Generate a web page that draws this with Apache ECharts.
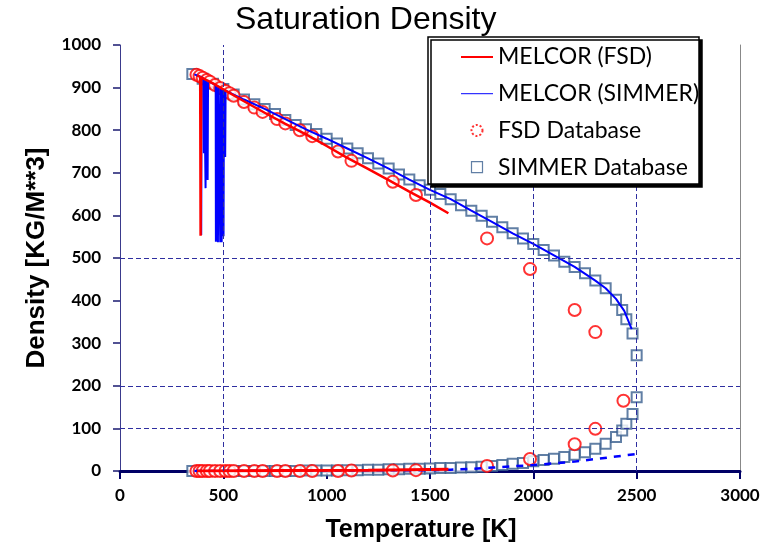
<!DOCTYPE html>
<html>
<head>
<meta charset="utf-8">
<script src="https://cdn.jsdelivr.net/npm/echarts@6/dist/echarts.min.js"></script>
<style>
  * { margin: 0; padding: 0; }
  body { background: #fff; }
  #chart { width: 776px; height: 548px; }
</style>
</head>
<body>
<div id="chart"></div>
<script>
// x ticks / y ticks
const xTicks = [0, 500, 1000, 1500, 2000, 2500, 3000];
const yTicks = [0, 100, 200, 300, 400, 500, 600, 700, 800, 900, 1000];
// dashed reference lines seen in the picture
const gridX = [500, 1500, 2000, 2500];
const gridY = [100, 200, 500];

// MELCOR (FSD) - liquid branch, with the drop near 390 K
const melcorFsdLiq = [[372, 929], [388, 925], [390, 552], [393, 924], [450, 910], [500, 896],
  [600, 868], [700, 841], [800, 815], [900, 790], [1000, 763], [1100, 735], [1200, 709],
  [1300, 683], [1400, 656], [1500, 630], [1589, 605]];
// MELCOR (FSD) - vapour branch
const melcorFsdVap = [[372, 0], [800, 1], [1200, 2], [1589, 4]];

// MELCOR (SIMMER) - liquid branch with spikes
const melcorSimLiq = [[360, 931], [392, 925], [393, 554], [395, 924], [405, 921], [406, 746],
  [408, 920], [413, 919], [414, 664], [416, 918], [423, 916], [424, 683], [426, 915],
  [430, 914], [463, 906], [464, 538], [466, 905], [473, 903], [474, 537], [476, 902],
  [484, 900], [485, 537], [487, 899], [491, 898], [492, 537], [494, 897], [500, 896],
  [501, 551], [503, 895], [508, 893], [509, 737], [511, 893], [600, 872], [700, 850],
  [800, 826], [900, 802], [1000, 780], [1100, 757], [1200, 734], [1300, 710], [1400, 684],
  [1500, 660], [1600, 638], [1700, 611], [1800, 585], [1900, 558], [2000, 533], [2100, 506],
  [2200, 479], [2300, 447], [2350, 429], [2400, 404], [2440, 376], [2476, 333]];
// MELCOR (SIMMER) - vapour branch (dashed)
const melcorSimVap = [[360, 0], [600, 0.5], [900, 1], [1200, 1.5], [1500, 2], [1600, 3],
  [1700, 5], [1800, 8], [1900, 11], [2000, 14], [2100, 18], [2200, 22], [2300, 28],
  [2400, 34], [2500, 40]];

// FSD Database circles
const fsdLiq = [[370, 930], [385, 927], [400, 923], [420, 918], [435, 914], [460, 906],
  [485, 899], [510, 892], [530, 887], [550, 881], [600, 866], [650, 853], [690, 843],
  [760, 826], [800, 816], [870, 800], [930, 786], [1055, 750], [1120, 728], [1320, 679],
  [1432, 648], [1776, 546], [1984, 474], [2200, 378], [2300, 326]];
const fsdVap = [[370, 0], [385, 0], [400, 0], [420, 0], [435, 0], [460, 0], [485, 0],
  [510, 0], [530, 0], [550, 0], [600, 0], [650, 0], [690, 0], [760, 0], [800, 0], [870, 0],
  [930, 0], [1055, 0], [1120, 1], [1320, 1], [1432, 2], [1776, 12], [1984, 28],
  [2200, 63], [2300, 99], [2436, 165]];

// SIMMER Database squares
const simLiq = [[350, 932], [400, 921], [450, 909], [500, 897], [550, 884], [600, 872],
  [650, 861], [700, 850], [750, 838], [800, 824], [850, 812], [900, 802], [950, 791],
  [1000, 780], [1050, 769], [1100, 757], [1150, 746], [1200, 734], [1250, 722], [1300, 710],
  [1350, 696], [1400, 684], [1450, 671], [1500, 660], [1550, 650], [1600, 638], [1650, 624],
  [1700, 611], [1750, 599], [1800, 585], [1850, 572], [1900, 558], [1950, 546], [2000, 533],
  [2050, 519], [2100, 506], [2150, 491], [2200, 479], [2250, 464], [2300, 447], [2350, 429],
  [2400, 402], [2430, 378], [2450, 356], [2480, 323], [2500, 272]];
const simVap = [[350, 0], [400, 0], [450, 0], [500, 0], [550, 0], [600, 0], [650, 0],
  [700, 0], [750, 0], [800, 0], [850, 0], [900, 1], [950, 1], [1000, 1], [1050, 1],
  [1100, 2], [1150, 2], [1200, 3], [1250, 3], [1300, 4], [1350, 4], [1400, 5], [1450, 5],
  [1500, 6], [1550, 7], [1600, 7], [1650, 8], [1700, 9], [1750, 10], [1800, 12], [1850, 14],
  [1900, 17], [1950, 19], [2000, 23], [2050, 26], [2100, 29], [2150, 33], [2200, 38],
  [2250, 44], [2300, 52], [2350, 64], [2400, 80], [2430, 95], [2450, 111], [2480, 134],
  [2500, 173]];

const chart = echarts.init(document.getElementById('chart'));

const dashColor = '#2E2EA0';
const markData = gridX.map(v => ({ xAxis: v })).concat(gridY.map(v => ({ yAxis: v })));
const plain = v => String(v);

chart.setOption({
  animation: false,
  title: {
    text: 'Saturation Density',
    left: 235,
    top: 4,
    padding: 0,
    textStyle: { fontFamily: 'Liberation Sans', fontSize: 32, fontWeight: 'normal', color: '#000' }
  },
  graphic: [{
    type: 'rect',
    z: 100,
    shape: { x: 428, y: 37, width: 271, height: 147 },
    style: { fill: '#fff', stroke: '#000', lineWidth: 1.5,
      shadowColor: '#000', shadowOffsetX: 3, shadowOffsetY: 3, shadowBlur: 0 }
  }],
  legend: {
    z: 110,
    orient: 'vertical',
    left: 428,
    top: 39,
    padding: [6, 4, 7, 33],
    itemWidth: 32,
    itemHeight: 11,
    itemGap: 12.7,
    textStyle: { fontFamily: 'Lato', fontSize: 23, color: '#000', lineHeight: 24 },
    data: [
      { name: 'MELCOR (FSD)', icon: 'path://M0,0H32V2H0Z' },
      { name: 'MELCOR (SIMMER)', icon: 'path://M0,0H32V1H0Z' },
      { name: 'FSD Database', icon: 'emptyCircle', itemStyle: { borderType: 'dotted', borderWidth: 1 } },
      { name: 'SIMMER Database', icon: 'path://M0,0H9V9H0Z',
        itemStyle: { color: '#fff', borderColor: '#3A5F8F', borderWidth: 1.2 } }
    ]
  },
  grid: { left: 120, right: 36, top: 45, bottom: 77, outerBoundsMode: 'none' },
  xAxis: {
    type: 'value',
    min: xTicks[0],
    max: xTicks[xTicks.length - 1],
    interval: 500,
    name: 'Temperature [K]',
    nameLocation: 'middle',
    nameGap: 47,
    nameTextStyle: { fontFamily: 'Liberation Sans', fontWeight: 'bold', fontSize: 25, color: '#000', padding: [0, 18, 0, 0] },
    axisLine: { lineStyle: { color: '#000066', width: 3 } },
    axisTick: { show: true, inside: false, length: 8, lineStyle: { color: '#000066', width: 2 } },
    axisLabel: { fontFamily: 'Lato', fontWeight: 'bold', fontSize: 17, color: '#000', margin: 16, formatter: plain },
    splitLine: { show: false }
  },
  yAxis: [{
    type: 'value',
    min: yTicks[0],
    max: yTicks[yTicks.length - 1],
    interval: 100,
    name: 'Density [KG/M**3]',
    nameLocation: 'middle',
    nameGap: 70,
    nameRotate: 90,
    nameTextStyle: { fontFamily: 'Liberation Sans', fontWeight: 'bold', fontSize: 26, color: '#000' },
    axisLine: { show: true, lineStyle: { color: '#3A3A8C', width: 1 } },
    axisTick: { show: true, length: 7, lineStyle: { color: '#1A1A70', width: 1.5 } },
    axisLabel: { fontFamily: 'Lato', fontWeight: 'bold', fontSize: 17, color: '#000', margin: 19, formatter: plain },
    splitLine: { show: false }
  }, {
    type: 'value',
    position: 'right',
    min: 0,
    max: 1000,
    axisLine: { show: true, lineStyle: { color: '#888', width: 1 } },
    axisTick: { show: false },
    axisLabel: { show: false },
    splitLine: { show: false }
  }],
  series: [
    {
      name: 'gridlines',
      type: 'line',
      data: [],
      silent: true,
      markLine: {
        silent: true,
        symbol: 'none',
        label: { show: false },
        lineStyle: { color: dashColor, type: [5, 3], width: 1 },
        data: markData
      }
    },
    {
      name: 'SIMMER Database',
      type: 'scatter',
      data: simLiq.concat(simVap),
      symbol: 'emptyRect',
      symbolSize: 10,
      itemStyle: { color: '#3A5F8F', borderColor: '#3A5F8F', borderWidth: 1.5 }
    },
    {
      name: 'MELCOR (SIMMER)',
      type: 'line',
      data: melcorSimLiq,
      symbol: 'none',
      lineStyle: { color: '#0000FF', width: 2 },
      itemStyle: { color: '#0000FF' }
    },
    {
      name: 'MELCOR (SIMMER)',
      type: 'line',
      data: melcorSimVap,
      symbol: 'none',
      lineStyle: { color: '#0000FF', width: 2.5, type: [7, 7] },
      itemStyle: { color: '#0000FF' }
    },
    {
      name: 'MELCOR (FSD)',
      type: 'line',
      data: melcorFsdLiq,
      symbol: 'none',
      lineStyle: { color: '#FF0000', width: 2.5 },
      itemStyle: { color: '#FF0000' }
    },
    {
      name: 'MELCOR (FSD)',
      type: 'line',
      data: melcorFsdVap,
      symbol: 'none',
      lineStyle: { color: '#FF0000', width: 3 },
      itemStyle: { color: '#FF0000' }
    },
    {
      name: 'FSD Database',
      type: 'scatter',
      data: fsdLiq.concat(fsdVap),
      symbol: 'emptyCircle',
      symbolSize: 12,
      itemStyle: { color: '#FF0000', borderColor: '#FF0000', borderWidth: 1.2 }
    }
  ]
});
</script>
</body>
</html>
